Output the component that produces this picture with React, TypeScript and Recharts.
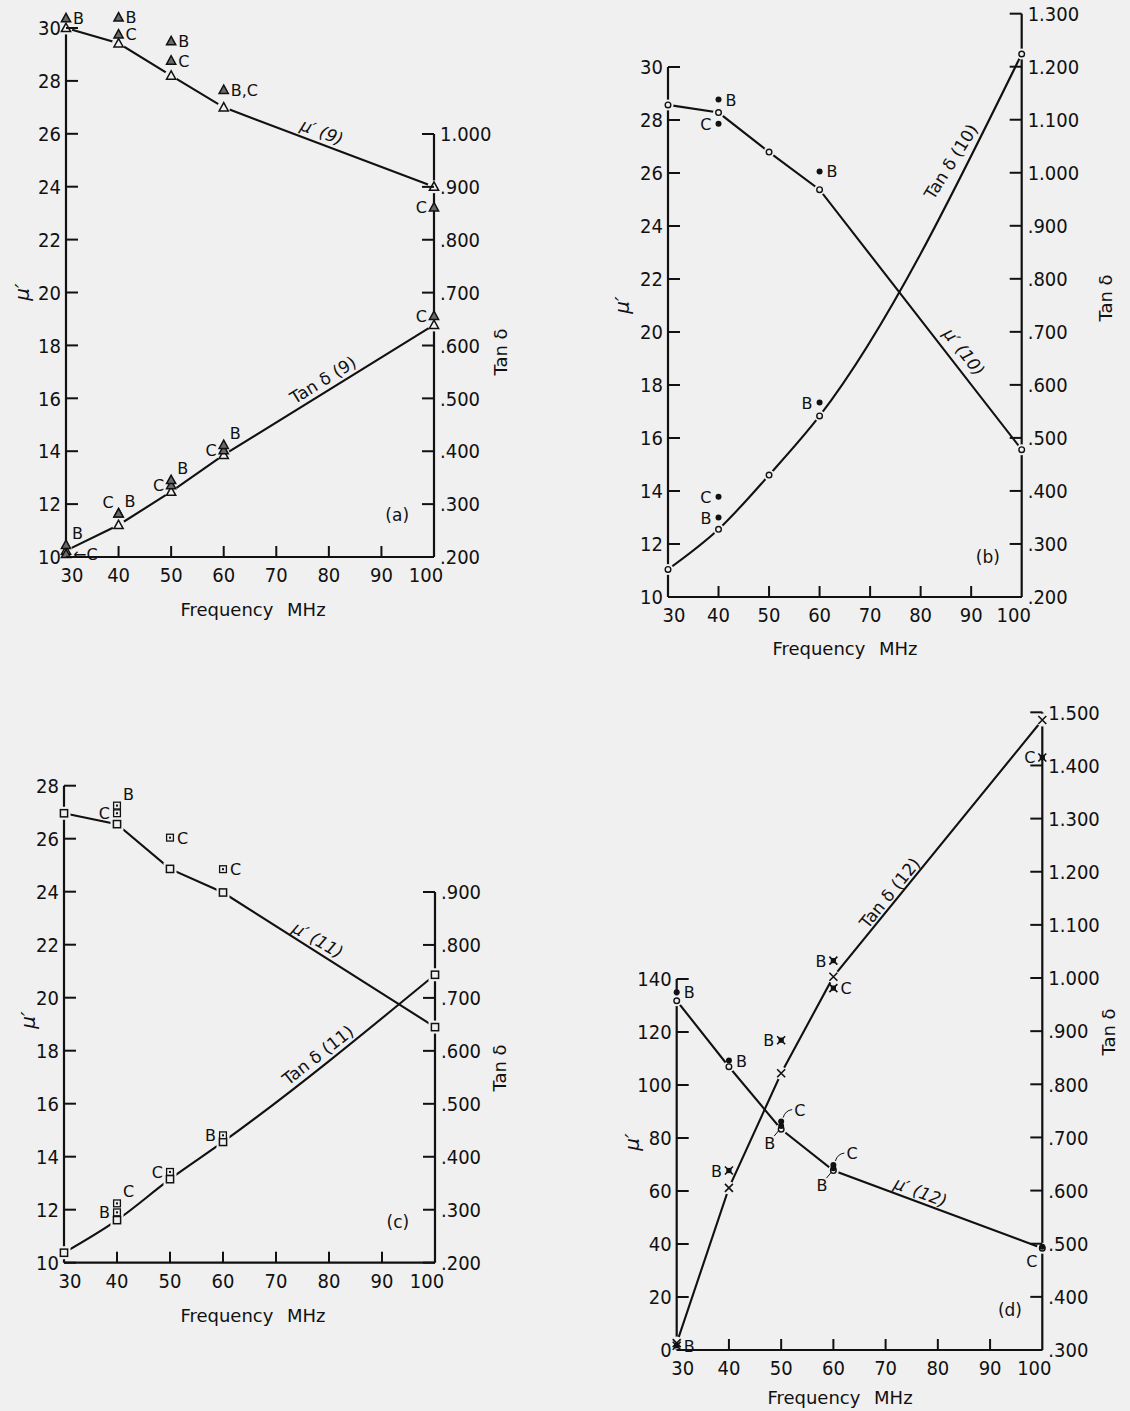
import React from 'react';
import { ComposedChart, Line, XAxis, YAxis, ReferenceLine, ReferenceDot } from 'recharts';

const BG = '#f0f0f0';
const INK = '#111111';
const NUM_FONT = "'Liberation Sans Narrow', 'DejaVu Sans Condensed', 'Liberation Sans', sans-serif";
const TXT_FONT = "'DejaVu Sans', 'Liberation Sans', sans-serif";

// ---- data ----
const freqs = [30, 40, 50, 60, 100];
const freqTicks = [30, 40, 50, 60, 70, 80, 90, 100];

// (a) sample 9
const muA = [30.0, 29.42, 28.2, 27.0, 24.0];
const tanA = [0.212, 0.2605, 0.3235, 0.393, 0.639];
const muAExtra = [
  { f: 30, v: 30.37, tag: 'B' },
  { f: 40, v: 30.4, tag: 'B' },
  { f: 40, v: 29.76, tag: 'C' },
  { f: 50, v: 29.5, tag: 'B' },
  { f: 50, v: 28.77, tag: 'C' },
  { f: 60, v: 27.66, tag: 'B,C' },
  { f: 100, v: 23.22, tag: 'C' },
];
const tanAExtra = [
  { f: 30, v: 0.223, tag: 'B' },
  { f: 30, v: 0.206, tag: '←C' },
  { f: 40, v: 0.2826, tag: 'C' },
  { f: 40, v: 0.2826, tag: 'B' },
  { f: 50, v: 0.336, tag: 'C' },
  { f: 50, v: 0.3456, tag: 'B' },
  { f: 60, v: 0.402, tag: 'C' },
  { f: 60, v: 0.412, tag: 'B' },
  { f: 100, v: 0.656, tag: 'C' },
];
const muTicksA = [10, 12, 14, 16, 18, 20, 22, 24, 26, 28, 30];
const tanTicksA = [0.2, 0.3, 0.4, 0.5, 0.6, 0.7, 0.8, 0.9, 1.0];

// (b) sample 10
const muB = [28.57, 28.28, 26.79, 25.37, 15.56];
const tanB = [0.252, 0.3277, 0.43, 0.5415, 1.224];
const muBExtra = [
  { f: 40, v: 28.77, tag: 'B' },
  { f: 40, v: 27.86, tag: 'C' },
  { f: 60, v: 26.06, tag: 'B' },
];
const tanBExtra = [
  { f: 40, v: 0.389, tag: 'C' },
  { f: 40, v: 0.3497, tag: 'B' },
  { f: 60, v: 0.5666, tag: 'B' },
];
const muTicksB = [10, 12, 14, 16, 18, 20, 22, 24, 26, 28, 30];
const tanTicksB = [0.2, 0.3, 0.4, 0.5, 0.6, 0.7, 0.8, 0.9, 1.0, 1.1, 1.2, 1.3];

// (c) sample 11
const muC = [26.96, 26.55, 24.86, 23.97, 18.89];
const tanC = [0.2188, 0.2804, 0.3577, 0.428, 0.7437];
const muCExtra = [
  { f: 40, v: 27.25, tag: 'B' },
  { f: 40, v: 26.96, tag: 'C' },
  { f: 50, v: 26.04, tag: 'C' },
  { f: 60, v: 24.85, tag: 'C' },
];
const tanCExtra = [
  { f: 40, v: 0.295, tag: 'B' },
  { f: 40, v: 0.312, tag: 'C' },
  { f: 50, v: 0.3714, tag: 'C' },
  { f: 60, v: 0.4405, tag: 'B' },
];
const muTicksC = [10, 12, 14, 16, 18, 20, 22, 24, 26, 28];
const tanTicksC = [0.2, 0.3, 0.4, 0.5, 0.6, 0.7, 0.8, 0.9];

// (d) sample 12
const muD = [131.8, 106.9, 83.3, 67.7, 38.4];
const tanD = [0.313, 0.605, 0.8208, 1.0025, 1.4855];
const muDExtra = [
  { f: 30, v: 135.0, tag: 'B' },
  { f: 40, v: 109.2, tag: 'B' },
  { f: 50, v: 86.2, tag: 'C' },
  { f: 50, v: 84.5, tag: 'B' },
  { f: 60, v: 69.8, tag: 'C' },
  { f: 60, v: 68.6, tag: 'B' },
  { f: 100, v: 39.0, tag: 'C' },
];
const tanDExtra = [
  { f: 30, v: 0.308, tag: 'B' },
  { f: 40, v: 0.6377, tag: 'B' },
  { f: 50, v: 0.883, tag: 'B' },
  { f: 60, v: 1.0327, tag: 'B' },
  { f: 60, v: 0.981, tag: 'C' },
  { f: 100, v: 1.415, tag: 'C' },
];
const muTicksD = [0, 20, 40, 60, 80, 100, 120, 140];
const tanTicksD = [0.3, 0.4, 0.5, 0.6, 0.7, 0.8, 0.9, 1.0, 1.1, 1.2, 1.3, 1.4, 1.5];

const pts = (fs: number[], vs: number[]) => fs.map((f, i) => ({ f, v: vs[i] }));

// ---- label placement for B / C tags ----
const muASides = ['r', 'r', 'r', 'r', 'r', 'r', 'l'];
const tanASides = ['ru', 'r', 'lu', 'ru', 'l', 'ru', 'l', 'ru', 'l'];
const muBSides = ['r', 'l', 'r'];
const tanBSides = ['l', 'l', 'l'];
const muCSides = ['ru', 'l', 'r', 'r'];
const tanCSides = ['l', 'ru', 'l', 'l'];
const muDSides = ['r', 'r', 'rl', 'll', 'rl', 'll', 'ld'];
const tanDSides = ['r', 'l', 'l', 'l', 'r', 'l'];

const SIDE: Record<string, [number, number, 'start' | 'end']> = {
  r: [7, 6, 'start'],
  l: [-7, 6, 'end'],
  ru: [6, -6, 'start'],
  lu: [-5, -5, 'end'],
  ld: [-5, 20, 'end'],
  rl: [13, -6, 'start'],
  ll: [-6, 23, 'end'],
};

function Marker({ kind, cx, cy }: { kind: string; cx: number; cy: number }) {
  const sw = 1.5;
  switch (kind) {
    case 'triOpen':
    case 'triShade': {
      const p = `${cx},${cy - 4.8} ${cx - 4.6},${cy + 3.6} ${cx + 4.6},${cy + 3.6}`;
      return (
        <g>
          {kind === 'triOpen' && <circle cx={cx} cy={cy} r={6.5} fill={BG} />}
          <polygon points={p} fill={kind === 'triOpen' ? BG : '#6a6a6a'} stroke={INK} strokeWidth={sw} />
        </g>
      );
    }
    case 'circOpen':
      return (
        <g>
          <circle cx={cx} cy={cy} r={5.5} fill={BG} />
          <circle cx={cx} cy={cy} r={2.8} fill={BG} stroke={INK} strokeWidth={1.4} />
        </g>
      );
    case 'dot':
      return <circle cx={cx} cy={cy} r={3} fill={INK} />;
    case 'sqOpen':
      return (
        <g>
          <rect x={cx - 6.5} y={cy - 6.5} width={13} height={13} fill={BG} />
          <rect x={cx - 3.6} y={cy - 3.6} width={7.2} height={7.2} fill={BG} stroke={INK} strokeWidth={sw} />
        </g>
      );
    case 'sqDot':
      return (
        <g>
          <rect x={cx - 3.4} y={cy - 3.4} width={6.8} height={6.8} fill={BG} stroke={INK} strokeWidth={1.3} />
          <rect x={cx - 1} y={cy - 1} width={2} height={2} fill={INK} />
        </g>
      );
    case 'cross':
      return (
        <g>
          <circle cx={cx} cy={cy} r={6.5} fill={BG} />
          <path d={`M${cx - 4},${cy - 4}L${cx + 4},${cy + 4}M${cx - 4},${cy + 4}L${cx + 4},${cy - 4}`} stroke={INK} strokeWidth={1.6} />
        </g>
      );
    case 'crossFill':
      return (
        <g>
          <rect x={cx - 2.6} y={cy - 2.6} width={5.2} height={5.2} fill={INK} />
          <path d={`M${cx - 4},${cy - 4}L${cx + 4},${cy + 4}M${cx - 4},${cy + 4}L${cx + 4},${cy - 4}`} stroke={INK} strokeWidth={1.6} />
        </g>
      );
    default:
      return null;
  }
}

function Tag({ cx, cy, text, side }: { cx: number; cy: number; text: string; side: string }) {
  const [dx, dy, anchor] = SIDE[side] ?? SIDE.r;
  return (
    <g>
      {side === 'rl' && (
        <path d={`M${cx + 2},${cy - 4} Q${cx + 4},${cy - 11} ${cx + 11},${cy - 12}`} fill="none" stroke={INK} strokeWidth={1} />
      )}
      {side === 'll' && <path d={`M${cx - 2},${cy + 4} L${cx - 7},${cy + 10}`} fill="none" stroke={INK} strokeWidth={1} />}
      <text x={cx + dx} y={cy + dy} textAnchor={anchor} fontFamily={TXT_FONT} fontSize={16} fill={INK}>
        {text}
      </text>
    </g>
  );
}

const dotFor = (kind: string, sides?: string[]) => (p: any) => {
  const { cx, cy, index, payload } = p;
  if (cx == null || cy == null) return <g key={`e${kind}${index}`} />;
  return (
    <g key={`m${kind}${index}`}>
      <Marker kind={kind} cx={cx} cy={cy} />
      {payload && payload.tag && <Tag cx={cx} cy={cy} text={payload.tag} side={(sides && sides[index]) || 'r'} />}
    </g>
  );
};

const fmtTan = (v: number) => (v >= 1 ? v.toFixed(3) : v.toFixed(3).slice(1));

function LeftTick(p: any) {
  const { x, y, payload } = p;
  return (
    <g>
      <line x1={x} x2={x + 12} y1={y} y2={y} stroke={INK} strokeWidth={2} />
      <text x={x - 5} y={y} dy="0.36em" textAnchor="end" fontFamily={NUM_FONT} fontSize={20} fill={INK}>
        {payload.value}
      </text>
    </g>
  );
}

function RightTick(p: any) {
  const { x, y, payload } = p;
  return (
    <g>
      <line x1={x - 12} x2={x} y1={y} y2={y} stroke={INK} strokeWidth={2} />
      <text x={x + 6} y={y} dy="0.36em" textAnchor="start" fontFamily={NUM_FONT} fontSize={20} fill={INK}>
        {fmtTan(payload.value)}
      </text>
    </g>
  );
}

function FreqTick(p: any) {
  const { x, y, payload } = p;
  const v = payload.value;
  const edge = v === 30 || v === 100;
  const shift = v === 30 ? 6 : v === 100 ? -8 : 0;
  return (
    <g>
      {!edge && <line x1={x} x2={x} y1={y} y2={y - 11} stroke={INK} strokeWidth={2} />}
      <text x={x + shift} y={y + 25} textAnchor="middle" fontFamily={NUM_FONT} fontSize={20} fill={INK}>
        {v}
      </text>
    </g>
  );
}

type Pt = { f: number; v: number; tag?: string };
type Series = { data: Pt[]; axis: 'left' | 'right'; kind: string; curve?: 'linear' | 'monotone'; sides?: string[] };
type Note = { f: number; v: number; axis: 'left' | 'right'; angle: number; kind: 'mu' | 'tan' | 'plain'; text: string };
type PanelCfg = {
  x: number; y: number; axisL: number; axisR: number; plotTop: number; plotBottom: number;
  pxL: number; pxR: number; lMin: number; rMin: number; rw: number; xh: number;
  leftTicks: number[]; rightTicks: number[]; leftTop: number; rightTop: number;
  muTitle: [number, number]; tanTitle: [number, number]; freqTitle: [number, number];
  series: Series[]; notes: Note[];
};

const panels: PanelCfg[] = [
  {
    x: 0, y: 0, axisL: 66, axisR: 434, plotTop: 6, plotBottom: 557, pxL: 26.45, pxR: 528.75, lMin: 10, rMin: 0.2,
    rw: 100, xh: 70, leftTicks: muTicksA, rightTicks: tanTicksA, leftTop: 30, rightTop: 1.0,
    muTitle: [22, 292], tanTitle: [500, 352], freqTitle: [253, 616],
    series: [
      { data: pts(freqs, muA), axis: 'left', kind: 'triOpen', curve: 'linear' },
      { data: pts(freqs, tanA), axis: 'right', kind: 'triOpen', curve: 'linear' },
      { data: muAExtra, axis: 'left', kind: 'triShade', sides: muASides },
      { data: tanAExtra, axis: 'right', kind: 'triShade', sides: tanASides },
    ],
    notes: [
      { f: 78.7, v: 26.07, axis: 'left', angle: 20.7, kind: 'mu', text: '9' },
      { f: 78.9, v: 0.535, axis: 'right', angle: -31.8, kind: 'tan', text: '9' },
      { f: 93, v: 11.6, axis: 'left', angle: 0, kind: 'plain', text: '(a)' },
    ],
  },
  {
    x: 580, y: 0, axisL: 668, axisR: 1021.7, plotTop: 6, plotBottom: 597, pxL: 26.5, pxR: 530.3, lMin: 10, rMin: 0.2,
    rw: 100, xh: 70, leftTicks: muTicksB, rightTicks: tanTicksB, leftTop: 30, rightTop: 1.3,
    muTitle: [622, 305], tanTitle: [1106, 298], freqTitle: [845, 655],
    series: [
      { data: pts(freqs, muB), axis: 'left', kind: 'circOpen', curve: 'linear' },
      { data: pts(freqs, tanB), axis: 'right', kind: 'circOpen', curve: 'monotone' },
      { data: muBExtra, axis: 'left', kind: 'dot', sides: muBSides },
      { data: tanBExtra, axis: 'right', kind: 'dot', sides: tanBSides },
    ],
    notes: [
      { f: 86.0, v: 1.021, axis: 'right', angle: -58, kind: 'tan', text: '10' },
      { f: 88.6, v: 19.25, axis: 'left', angle: 52, kind: 'mu', text: '10' },
      { f: 93.3, v: 11.5, axis: 'left', angle: 0, kind: 'plain', text: '(b)' },
    ],
  },
  {
    x: 0, y: 760, axisL: 64, axisR: 435, plotTop: 772, plotBottom: 1262.7, pxL: 26.5, pxR: 529.6, lMin: 10, rMin: 0.2,
    rw: 100, xh: 70, leftTicks: muTicksC, rightTicks: tanTicksC, leftTop: 28, rightTop: 0.9,
    muTitle: [28, 1020], tanTitle: [500, 1068], freqTitle: [253, 1322],
    series: [
      { data: pts(freqs, muC), axis: 'left', kind: 'sqOpen', curve: 'linear' },
      { data: pts(freqs, tanC), axis: 'right', kind: 'sqOpen', curve: 'monotone' },
      { data: muCExtra, axis: 'left', kind: 'sqDot', sides: muCSides },
      { data: tanCExtra, axis: 'right', kind: 'sqDot', sides: tanCSides },
    ],
    notes: [
      { f: 77.9, v: 22.18, axis: 'left', angle: 30, kind: 'mu', text: '11' },
      { f: 77.9, v: 0.592, axis: 'right', angle: -38, kind: 'tan', text: '11' },
      { f: 93, v: 11.54, axis: 'left', angle: 0, kind: 'plain', text: '(c)' },
    ],
  },
  {
    x: 590, y: 690, axisL: 676.7, axisR: 1042.3, plotTop: 700, plotBottom: 1350, pxL: 2.65, pxR: 531.4, lMin: 0, rMin: 0.3,
    rw: 87.7, xh: 61, leftTicks: muTicksD, rightTicks: tanTicksD, leftTop: 140, rightTop: 1.5,
    muTitle: [632, 1142], tanTitle: [1108, 1032], freqTitle: [840, 1404],
    series: [
      { data: pts(freqs, muD), axis: 'left', kind: 'circOpen', curve: 'linear' },
      { data: pts(freqs, tanD), axis: 'right', kind: 'cross', curve: 'linear' },
      { data: muDExtra, axis: 'left', kind: 'dot', sides: muDSides },
      { data: tanDExtra, axis: 'right', kind: 'crossFill', sides: tanDSides },
    ],
    notes: [
      { f: 70.8, v: 1.16, axis: 'right', angle: -51, kind: 'tan', text: '12' },
      { f: 76.7, v: 59.6, axis: 'left', angle: 20.4, kind: 'mu', text: '12' },
      { f: 93.8, v: 15.1, axis: 'left', angle: 0, kind: 'plain', text: '(d)' },
    ],
  },
];

function NoteText({ note, cx, cy }: { note: Note; cx: number; cy: number }) {
  return (
    <text
      x={cx}
      y={cy}
      transform={note.angle ? `rotate(${note.angle} ${cx} ${cy})` : undefined}
      textAnchor="middle"
      dominantBaseline="central"
      fontFamily={TXT_FONT}
      fontSize={17}
      fill={INK}
    >
      {note.kind === 'mu' && (
        <>
          <tspan fontStyle="italic">μ′</tspan>
          <tspan fontStyle="italic">{` (${note.text})`}</tspan>
        </>
      )}
      {note.kind === 'tan' && `Tan δ (${note.text})`}
      {note.kind === 'plain' && note.text}
    </text>
  );
}

function Panel({ cfg }: { cfg: PanelCfg }) {
  const plotH = cfg.plotBottom - cfg.plotTop;
  const leftDomain: [number, number] = [cfg.lMin, cfg.lMin + plotH / cfg.pxL];
  const rightDomain: [number, number] = [cfg.rMin, cfg.rMin + plotH / cfg.pxR];
  const width = cfg.axisR - cfg.x + cfg.rw;
  const height = cfg.plotBottom - cfg.y + cfg.xh;
  const lw = cfg.axisL - cfg.x;
  const ox = cfg.x;
  const oy = cfg.y;

  return (
    <div style={{ position: 'absolute', left: cfg.x, top: cfg.y }}>
      <ComposedChart width={width} height={height} margin={{ top: cfg.plotTop - cfg.y, right: 0, bottom: 0, left: 0 }}>
        <XAxis
          type="number"
          dataKey="f"
          domain={[30, 100]}
          ticks={freqTicks}
          interval={0}
          tickSize={0}
          tickMargin={0}
          tickLine={false}
          height={cfg.xh}
          axisLine={{ stroke: INK, strokeWidth: 2.2 }}
          tick={(p: any) => <FreqTick {...p} />}
          label={{
            content: () => (
              <text x={cfg.freqTitle[0] - ox} y={cfg.freqTitle[1] - oy} textAnchor="middle" fontFamily={TXT_FONT} fontSize={18} wordSpacing={8} fill={INK}>
                Frequency MHz
              </text>
            ),
          }}
        />
        <YAxis
          yAxisId="left"
          type="number"
          dataKey="v"
          domain={leftDomain}
          ticks={cfg.leftTicks}
          interval={0}
          width={lw}
          tickSize={0}
          tickMargin={0}
          tickLine={false}
          axisLine={false}
          tick={(p: any) => <LeftTick {...p} />}
          label={{
            content: () => {
              const tx = cfg.muTitle[0] - ox;
              const ty = cfg.muTitle[1] - oy;
              return (
                <text x={tx} y={ty} transform={`rotate(-90 ${tx} ${ty})`} textAnchor="middle" dominantBaseline="central" fontFamily={TXT_FONT} fontSize={20} fontStyle="italic" fill={INK}>
                  μ′
                </text>
              );
            },
          }}
        />
        <YAxis
          yAxisId="right"
          orientation="right"
          type="number"
          dataKey="v"
          domain={rightDomain}
          ticks={cfg.rightTicks}
          interval={0}
          width={cfg.rw}
          tickSize={0}
          tickMargin={0}
          tickLine={false}
          axisLine={false}
          tick={(p: any) => <RightTick {...p} />}
          label={{
            content: () => {
              const tx = cfg.tanTitle[0] - ox;
              const ty = cfg.tanTitle[1] - oy;
              return (
                <text x={tx} y={ty} transform={`rotate(-90 ${tx} ${ty})`} textAnchor="middle" dominantBaseline="central" fontFamily={TXT_FONT} fontSize={18} fill={INK}>
                  Tan δ
                </text>
              );
            },
          }}
        />
        <ReferenceLine
          yAxisId="left"
          segment={[{ x: 30, y: cfg.lMin }, { x: 30, y: cfg.leftTop }]}
          stroke={INK}
          strokeWidth={2.2}
          ifOverflow="visible"
        />
        <ReferenceLine
          yAxisId="right"
          segment={[{ x: 100, y: cfg.rMin }, { x: 100, y: cfg.rightTop }]}
          stroke={INK}
          strokeWidth={2.2}
          ifOverflow="visible"
        />
        {cfg.series.map((s, i) => (
          <Line
            key={`s${i}`}
            data={s.data}
            dataKey="v"
            yAxisId={s.axis}
            type={s.curve || 'linear'}
            stroke={s.curve ? INK : 'none'}
            strokeWidth={2.1}
            dot={dotFor(s.kind, s.sides)}
            activeDot={false}
            isAnimationActive={false}
          />
        ))}
        {cfg.notes.map((n, i) => (
          <ReferenceDot
            key={`n${i}`}
            x={n.f}
            y={n.v}
            yAxisId={n.axis}
            r={0}
            ifOverflow="visible"
            shape={(p: any) => <NoteText note={n} cx={p.cx} cy={p.cy} />}
          />
        ))}
      </ComposedChart>
    </div>
  );
}

export default function App() {
  return (
    <div style={{ position: 'absolute', left: 0, top: 0, width: 1130, height: 1411, background: BG, overflow: 'hidden' }}>
      {panels.map((cfg, i) => (
        <Panel key={i} cfg={cfg} />
      ))}
    </div>
  );
}
